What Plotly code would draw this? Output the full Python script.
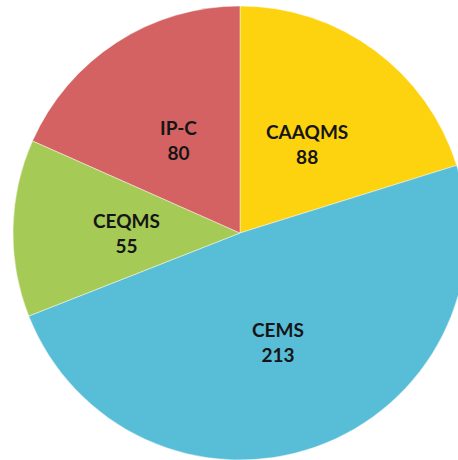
import math
import plotly.graph_objects as go

labels = ["CAAQMS", "CEMS", "CEQMS", "IP-C"]
values = [88, 213, 55, 80]
colors = ["#FDD20F", "#58BDD7", "#A5CA55", "#D56262"]

W, H = 480, 466
dom_x = [13 / W, 467 / W]
dom_y = [(H - 460) / H, (H - 6) / H]

fig = go.Figure(go.Pie(
    labels=labels,
    values=values,
    sort=False,
    direction="clockwise",
    rotation=0,
    marker=dict(colors=colors, line=dict(color="rgba(255,255,255,0.45)", width=1)),
    textinfo="none",
    domain=dict(x=dom_x, y=dom_y),
    showlegend=False,
    hoverinfo="label+value",
))

# labels at mid-angle of each slice, about half the radius out
cx = (dom_x[0] + dom_x[1]) / 2
cy = (dom_y[0] + dom_y[1]) / 2
R_px = min((dom_x[1] - dom_x[0]) * W, (dom_y[1] - dom_y[0]) * H) / 2
total = sum(values)
cum = 0
for lab, v in zip(labels, values):
    theta = 2 * math.pi * (cum + v / 2) / total
    cum += v
    r = 0.5 * R_px
    fig.add_annotation(
        x=cx + r * math.sin(theta) / W,
        y=cy + r * math.cos(theta) / H - 2 / H,
        xref="paper", yref="paper",
        xanchor="center", yanchor="middle",
        text=f"<b>{lab}</b><br><b>{v}</b>",
        showarrow=False,
        font=dict(family="Lato", size=19, color="#151515"),
        align="center",
    )

fig.update_layout(
    width=W, height=H,
    margin=dict(l=0, r=0, t=0, b=0),
    paper_bgcolor="white",
    plot_bgcolor="white",
)
fig.write_html(
    "out.html",
    config={"displayModeBar": False},
    post_script="document.body.style.margin='0';document.body.style.overflow='hidden';",
)
